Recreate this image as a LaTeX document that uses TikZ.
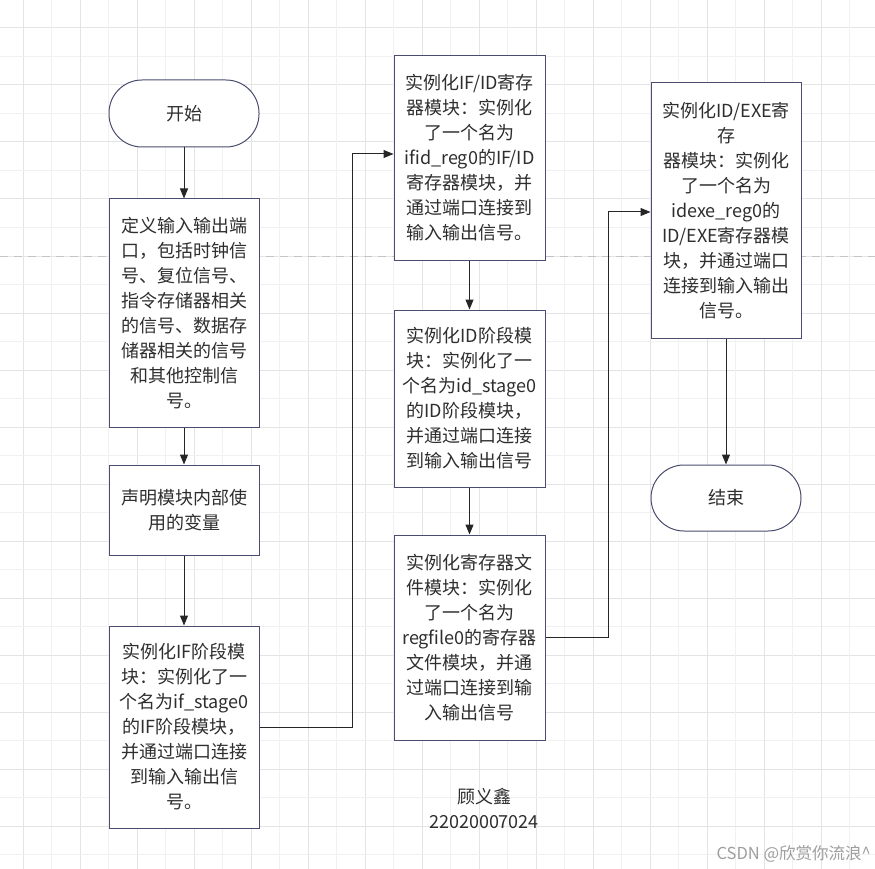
\documentclass[tikz,border=0pt]{standalone}
\usepackage{fontspec}
\setmainfont{Noto Sans CJK SC}
\usetikzlibrary{arrows.meta}
\definecolor{gridA}{HTML}{F1F1F1}
\definecolor{gridB}{HTML}{E4E4E4}
\definecolor{bord}{HTML}{4A4D70}
\definecolor{txt}{HTML}{2E2E2E}
\definecolor{dashc}{HTML}{C4C4C4}
\begin{document}
\begin{tikzpicture}[x=1pt,y=-1pt,
  box/.style={draw=bord, line width=1pt, fill=white, minimum width=150pt, inner sep=0pt, align=center, text=txt, font=\fontsize{18}{25}\selectfont},
  term/.style={box, rounded corners=33pt},
  arr/.style={draw=black!85, line width=1pt, -{Triangle[length=10pt,width=8pt]}},
  plain/.style={align=center, text=txt, font=\fontsize{18}{25}\selectfont, inner sep=0pt}]
\fill[white] (0,0) rectangle (875,869);
\useasboundingbox (0,0) rectangle (875,869);
\foreach \k in {0,...,29}{
  \pgfmathtruncatemacro\m{mod(\k,2)}
  \ifnum\m=0 \def\gc{gridB}\else\def\gc{gridA}\fi
  \draw[color=\gc, line width=1pt] ({23+28.5*\k},0) -- ({23+28.5*\k},869);
  \draw[color=\gc, line width=1pt] (0,{28+28.5*\k}) -- (875,{28+28.5*\k});
}
\draw[dashc, dash pattern=on 8pt off 6pt, line width=1pt] (0,256) -- (875,256);

\node[term, minimum height=67pt] (start) at (184,113.5) {开始};
\node[box, minimum height=228pt] (b1) at (184,313) {定义输入输出端\\口，包括时钟信\\号、复位信号、\\指令存储器相关\\的信号、数据存\\储器相关的信号\\和其他控制信\\号。};
\node[box, minimum height=90pt] (b2) at (184,510) {声明模块内部使\\用的变量};
\node[box, minimum height=202pt] (b3) at (184,727) {实例化IF阶段模\\块：实例化了一\\个名为if\_stage0\\的IF阶段模块，\\并通过端口连接\\到输入输出信\\号。};
\node[box, minimum width=151pt, minimum height=204pt] (b4) at (469.5,158) {实例化IF/ID寄存\\器模块：实例化\\了一个名为\\ifid\_reg0的IF/ID\\寄存器模块，并\\通过端口连接到\\输入输出信号。};
\node[box, minimum width=151pt, minimum height=177pt] (b5) at (469.5,398.5) {实例化ID阶段模\\块：实例化了一\\个名为id\_stage0\\的ID阶段模块，\\并通过端口连接\\到输入输出信号};
\node[box, minimum width=151pt, minimum height=205pt] (b6) at (469.5,637.5) {实例化寄存器文\\件模块：实例化\\了一个名为\\regfile0的寄存器\\文件模块，并通\\过端口连接到输\\入输出信号};
\node[box, minimum height=255pt] (b7) at (726,210.5) {实例化ID/EXE寄\\存\\器模块：实例化\\了一个名为\\idexe\_reg0的\\ID/EXE寄存器模\\块，并通过端口\\连接到输入输出\\信号。};
\node[term, minimum height=66pt] (end) at (726,498) {结束};

\node[plain] (author) at (484,808) {顾义鑫\\22020007024};
\node[anchor=east, text=black!38, font=\fontsize{16.5}{18}\selectfont, inner sep=0pt] (wm) at (871,854) {CSDN @欣赏你流浪\^{}};

\coordinate (cA) at (352,154);
\coordinate (cB) at (608,212);

\draw[arr] (start) -- (b1);
\draw[arr] (b1) -- (b2);
\draw[arr] (b2) -- (b3);
\draw[arr] (b3.east) -| (cA) -- (cA -| b4.west);
\draw[arr] (b4) -- (b5);
\draw[arr] (b5) -- (b6);
\draw[arr] (b6.east) -| (cB) -- (cB -| b7.west);
\draw[arr] (b7) -- (end);
\end{tikzpicture}
\end{document}
